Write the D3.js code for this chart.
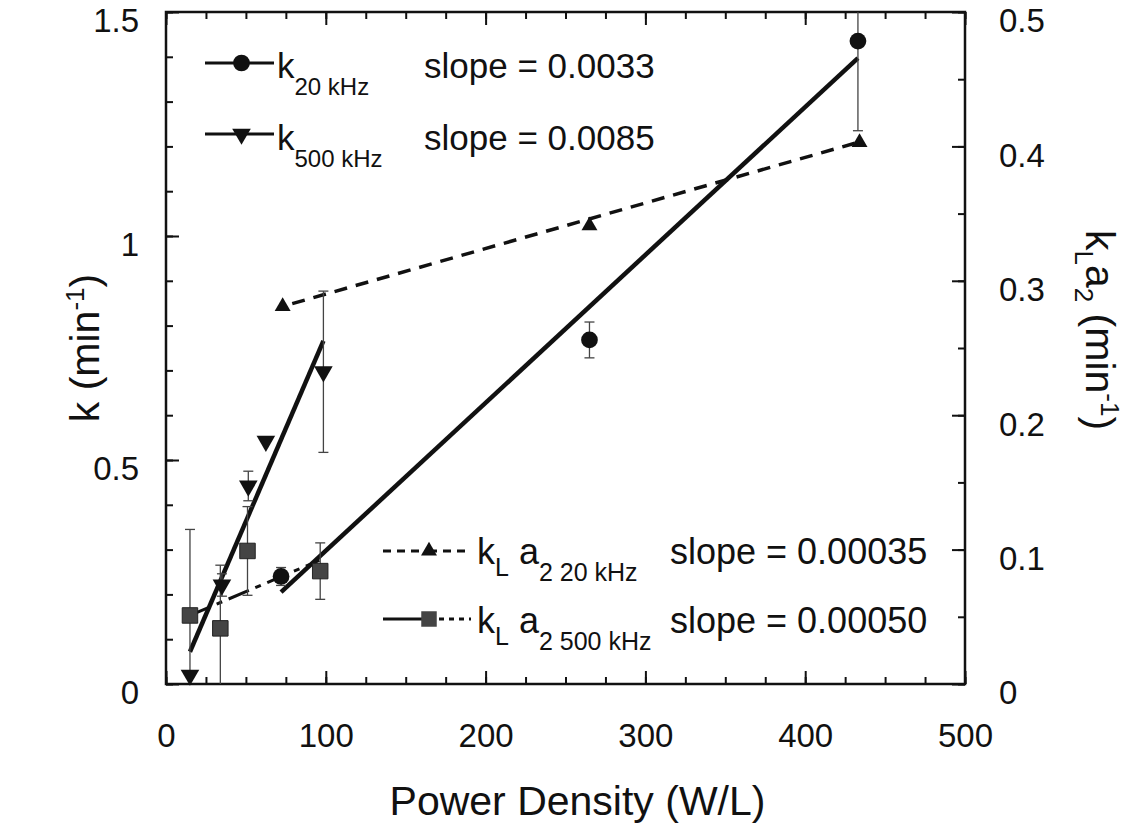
<!DOCTYPE html>
<html>
<head>
<meta charset="utf-8">
<script src="https://cdn.jsdelivr.net/npm/d3@7"></script>
<style>
  body { margin: 0; background: #fff; }
  svg { font-family: "Liberation Sans", Arial, Helvetica, sans-serif; }
  .axis text { font-size: 33px; fill: #111; }
  .axis line { stroke: #111; stroke-width: 2; }
  .axis path { display: none; }
</style>
</head>
<body>
<div id="chart"></div>
<script>
// k at 20 kHz (left axis, min^-1)
const k20X = [72, 265, 433];
const k20Y = [0.24, 0.768, 1.435];
const k20Err = [0.02, 0.04, 0.20];
const k20Fit = [[72, 0.205], [433, 1.397]];

// k at 500 kHz (left axis)
const k500X = [15, 35, 51.5, 62.5, 98.5];
const k500Y = [0.02, 0.221, 0.442, 0.542, 0.697];
const k500Err = [0, 0.025, 0.033, 0, 0.18];
const k500Fit = [[15, 0.072], [98.5, 0.766]];

// kLa2 at 20 kHz (right axis)
const kla20X = [73, 265, 434];
const kla20Y = [0.281, 0.341, 0.403];
const kla20Fit = [[79, 0.283], [433, 0.403]];

// kLa2 at 500 kHz (right axis)
const kla500X = [15, 34, 51, 96.5];
const kla500Y = [0.051, 0.0414, 0.099, 0.084];
const kla500Err = [0.064, 0.047, 0.033, 0.021];
const kla500Fit = [[15, 0.051], [96, 0.092]];

const xTicks = [0, 100, 200, 300, 400, 500];
const yLeftTicks = [0, 0.5, 1, 1.5];
const yRightTicks = [0, 0.1, 0.2, 0.3, 0.4, 0.5];

const W = 1146, H = 834;
const plot = { left: 166, right: 965, top: 12, bottom: 684 };

const svg = d3.select("#chart").append("svg")
  .attr("width", W).attr("height", H);

const x = d3.scaleLinear().domain([0, 500]).range([plot.left, plot.right]);
const yL = d3.scaleLinear().domain([0, 1.5]).range([plot.bottom, plot.top]);
const yR = d3.scaleLinear().domain([0, 0.5]).range([plot.bottom, plot.top]);

svg.append("clipPath").attr("id", "clip")
  .append("rect")
  .attr("x", plot.left).attr("y", plot.top)
  .attr("width", plot.right - plot.left).attr("height", plot.bottom - plot.top);

// axes: minor ticks then major ticks with labels, all pointing inward
function addAxis(axis, tx, ty) {
  return svg.append("g").attr("class", "axis")
    .attr("transform", `translate(${tx},${ty})`).call(axis);
}

addAxis(d3.axisBottom(x).tickValues(d3.range(0, 501, 25)).tickSize(-7).tickFormat(""), 0, plot.bottom);
addAxis(d3.axisBottom(x).tickValues(xTicks).tickSize(-13).tickPadding(40).tickFormat(d3.format("d")), 0, plot.bottom);
addAxis(d3.axisTop(x).tickValues(d3.range(0, 501, 25)).tickSize(-7).tickFormat(""), 0, plot.top);
addAxis(d3.axisTop(x).tickValues(xTicks).tickSize(-13).tickFormat(""), 0, plot.top);

addAxis(d3.axisLeft(yL).tickValues(d3.range(0, 1.51, 0.1)).tickSize(-7).tickFormat(""), plot.left, 0);
addAxis(d3.axisLeft(yL).tickValues(yLeftTicks).tickSize(-13).tickPadding(27).tickFormat(d => d === 0 ? "0" : d), plot.left, 0)
  .selectAll("text").attr("dy", "0.6em");

addAxis(d3.axisRight(yR).tickValues(d3.range(0, 0.501, 0.05)).tickSize(-7).tickFormat(""), plot.right, 0);
addAxis(d3.axisRight(yR).tickValues(yRightTicks).tickSize(-13).tickPadding(34).tickFormat(d => d === 0 ? "0" : d), plot.right, 0)
  .selectAll("text").attr("dy", "0.6em");

svg.append("rect")
  .attr("x", plot.left).attr("y", plot.top)
  .attr("width", plot.right - plot.left).attr("height", plot.bottom - plot.top)
  .attr("fill", "none").attr("stroke", "#111").attr("stroke-width", 2.5);

// axis titles
svg.append("text")
  .attr("x", (plot.left + plot.right) / 2 + 12).attr("y", 815)
  .attr("text-anchor", "middle").attr("font-size", 41).attr("fill", "#111")
  .text("Power Density (W/L)");

const leftTitle = svg.append("text")
  .attr("transform", "translate(99,348) rotate(-90)")
  .attr("text-anchor", "middle").attr("font-size", 41).attr("fill", "#111");
leftTitle.append("tspan").text("k (min");
leftTitle.append("tspan").attr("dy", -15).attr("font-size", 26).text("-1");
leftTitle.append("tspan").attr("dy", 15).text(")");

const rightTitle = svg.append("text")
  .attr("transform", "translate(1086,330) rotate(90)")
  .attr("text-anchor", "middle").attr("font-size", 41).attr("fill", "#111");
rightTitle.append("tspan").text("k");
rightTitle.append("tspan").attr("dy", 11).attr("font-size", 26).text("L");
rightTitle.append("tspan").attr("dy", -11).text("a");
rightTitle.append("tspan").attr("dy", 11).attr("font-size", 26).text("2");
rightTitle.append("tspan").attr("dy", -11).text(" (min");
rightTitle.append("tspan").attr("dy", -15).attr("font-size", 26).text("-1");
rightTitle.append("tspan").attr("dy", 15).text(")");

const g = svg.append("g").attr("clip-path", "url(#clip)");
const lineL = d3.line().x(d => x(d[0])).y(d => yL(d[1]));
const lineR = d3.line().x(d => x(d[0])).y(d => yR(d[1]));

// fit lines
g.append("path").attr("d", lineR(kla20Fit))
  .attr("fill", "none").attr("stroke", "#111").attr("stroke-width", 3.5)
  .attr("stroke-dasharray", "13,9");
g.append("path").attr("d", lineR(kla500Fit))
  .attr("fill", "none").attr("stroke", "#111").attr("stroke-width", 3)
  .attr("stroke-dasharray", "22,7,6,7");
g.append("path").attr("d", lineL(k20Fit))
  .attr("fill", "none").attr("stroke", "#111").attr("stroke-width", 4.5);
g.append("path").attr("d", lineL(k500Fit))
  .attr("fill", "none").attr("stroke", "#111").attr("stroke-width", 4.5);

// error bars
function errorBars(xs, ys, errs, y) {
  const data = xs.map((v, i) => ({ x: v, y: ys[i], e: errs[i] })).filter(d => d.e > 0);
  const eb = g.append("g").attr("stroke", "#444").attr("stroke-width", 1.3);
  data.forEach(d => {
    eb.append("line").attr("x1", x(d.x)).attr("x2", x(d.x))
      .attr("y1", y(d.y - d.e)).attr("y2", y(d.y + d.e));
    [d.y - d.e, d.y + d.e].forEach(v => {
      eb.append("line").attr("x1", x(d.x) - 5).attr("x2", x(d.x) + 5)
        .attr("y1", y(v)).attr("y2", y(v));
    });
  });
}
errorBars(k20X, k20Y, k20Err, yL);
errorBars(k500X, k500Y, k500Err, yL);
errorBars(kla500X, kla500Y, kla500Err, yR);

// markers
const sym = {
  circle: d3.symbol().type(d3.symbolCircle).size(220),
  triDown: d3.symbol().type(d3.symbolTriangle).size(150),
  triUp: d3.symbol().type(d3.symbolTriangle).size(110),
  square: d3.symbol().type(d3.symbolSquare).size(240)
};

function markers(xs, ys, y, shape, rot, fill) {
  svg.append("g").selectAll("path")
    .data(xs.map((v, i) => [v, ys[i]]))
    .join("path")
    .attr("d", sym[shape])
    .attr("transform", d => `translate(${x(d[0])},${y(d[1])}) rotate(${rot})`)
    .attr("fill", fill).attr("stroke", fill === "#111" ? "none" : "#222").attr("stroke-width", 1);
}
markers(kla500X, kla500Y, yR, "square", 0, "#444");
markers(kla20X, kla20Y, yR, "triUp", 0, "#111");
markers(k500X, k500Y, yL, "triDown", 180, "#111");
markers(k20X, k20Y, yL, "circle", 0, "#111");

// legends
function legendLabel(tx, ty, size, parts) {
  const t = svg.append("text").attr("x", tx).attr("y", ty).attr("fill", "#111").attr("font-size", size);
  parts.forEach(p => {
    t.append("tspan").attr("dy", p.dy || 0).attr("font-size", p.size || size).text(p.text);
  });
}

function legendSample(x0, x1, cy, dash, shape, rot, fill, dash2) {
  const cx = (x0 + x1) / 2 + 2;
  svg.append("line").attr("x1", x0).attr("x2", cx).attr("y1", cy).attr("y2", cy)
    .attr("stroke", "#111").attr("stroke-width", 3).attr("stroke-dasharray", dash);
  svg.append("line").attr("x1", cx).attr("x2", x1).attr("y1", cy).attr("y2", cy)
    .attr("stroke", "#111").attr("stroke-width", 3).attr("stroke-dasharray", dash2 === undefined ? dash : dash2);
  svg.append("path").attr("d", sym[shape])
    .attr("transform", `translate(${cx},${cy}) rotate(${rot})`).attr("fill", fill);
}

legendSample(205, 274, 63, null, "circle", 0, "#111");
legendLabel(277, 78, 35, [{ text: "k" }, { text: "20 kHz", size: 24, dy: 17 }]);
legendLabel(424, 78, 35, [{ text: "slope = 0.0033" }]);

legendSample(205, 274, 134, null, "triDown", 180, "#111");
legendLabel(277, 150, 35, [{ text: "k" }, { text: "500 kHz", size: 24, dy: 17 }]);
legendLabel(424, 150, 35, [{ text: "slope = 0.0085" }]);

legendSample(383, 471, 551, "8,6", "triUp", 0, "#111");
legendLabel(477, 564, 36, [{ text: "k" }, { text: "L", size: 25, dy: 12 }, { text: " a", dy: -12 },
  { text: "2 20 kHz", size: 25, dy: 17 }]);
legendLabel(670, 564, 36, [{ text: "slope = 0.00035" }]);

legendSample(383, 471, 619, null, "square", 0, "#444", "5,5");
legendLabel(477, 633, 36, [{ text: "k" }, { text: "L", size: 25, dy: 12 }, { text: " a", dy: -12 },
  { text: "2 500 kHz", size: 25, dy: 17 }]);
legendLabel(670, 633, 36, [{ text: "slope = 0.00050" }]);
</script>
</body>
</html>
